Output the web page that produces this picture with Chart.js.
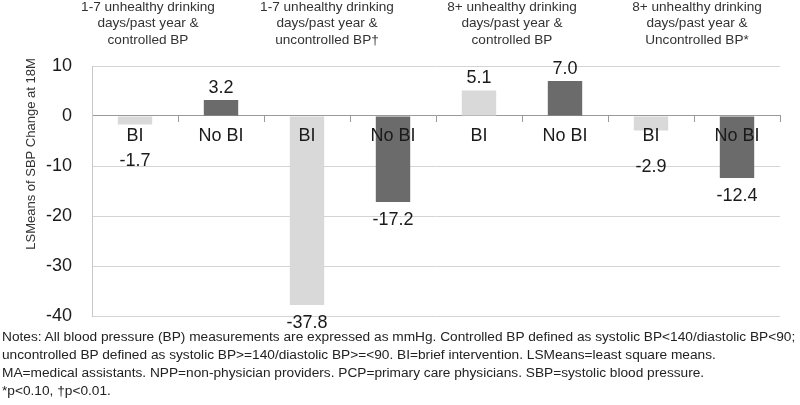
<!DOCTYPE html>
<html>
<head>
<meta charset="utf-8">
<script src="https://cdn.jsdelivr.net/npm/chart.js@4.4.1/dist/chart.umd.min.js"></script>
<style>
  html, body { margin: 0; padding: 0; background: #fff; }
  #wrap { position: relative; width: 800px; height: 405px; overflow: hidden; }
  #notes {
    position: absolute; left: 2px; top: 328px; width: 840px;
    font-family: "Liberation Sans", Arial, sans-serif;
    font-size: 13.7px; line-height: 18px; color: #222; white-space: nowrap;
  }
</style>
</head>
<body>
<div id="wrap">
  <canvas id="chart" width="800" height="405"></canvas>
  <div id="notes">
    Notes: All blood pressure (BP) measurements are expressed as mmHg. Controlled BP defined as systolic BP&lt;140/diastolic BP&lt;90;<br>
    uncontrolled BP defined as systolic BP&gt;=140/diastolic BP&gt;=&lt;90. BI=brief intervention. LSMeans=least square means.<br>
    MA=medical assistants. NPP=non-physician providers. PCP=primary care physicians. SBP=systolic blood pressure.<br>
    *p&lt;0.10, †p&lt;0.01.
  </div>
</div>
<script>
// ----- data -----
const barLabels = ['BI', 'No BI', 'BI', 'No BI', 'BI', 'No BI', 'BI', 'No BI'];
const sbpChange = [-1.7, 3.2, -37.8, -17.2, 5.1, 7.0, -2.9, -12.4];
const groupTitles = [
    ['1-7 unhealthy drinking', 'days/past year &', 'controlled BP'],
    ['1-7 unhealthy drinking', 'days/past year &', 'uncontrolled BP\u2020'],
    ['8+ unhealthy drinking', 'days/past year &', 'controlled BP'],
    ['8+ unhealthy drinking', 'days/past year &', 'Uncontrolled BP*']
];
const yTicks = [10, 0, -10, -20, -30, -40];
const yTitle = 'LSMeans of SBP Change at 18M';

// ----- layout / style -----
const FONT = '"Liberation Sans", Arial, sans-serif';
const titleCenters = [148, 327, 512, 697];
const colBI = '#d9d9d9';
const colNoBI = '#6b6b6b';

// category + value labels, group headers and the y axis title
const annotations = {
    id: 'annotations',
    afterDraw(chart) {
        const ctx = chart.ctx;
        const xs = chart.scales.x;
        const zeroY = chart.scales.y.getPixelForValue(0);
        const meta = chart.getDatasetMeta(0);
        ctx.save();
        ctx.fillStyle = '#1a1a1a';
        ctx.font = '18px ' + FONT;
        ctx.textAlign = 'center';
        ctx.textBaseline = 'middle';

        // BI / No BI sit just under the zero line, on top of the bars
        barLabels.forEach((l, i) => {
            ctx.fillText(l, xs.getPixelForValue(i), zeroY + 20);
        });

        meta.data.forEach((bar, i) => {
            const v = sbpChange[i];
            let y;
            if (v >= 0) y = bar.y - 12;
            else y = bar.y + (Math.abs(v) < 5 ? 37 : 18);  // small bars: push below the category label
            ctx.fillText(v.toFixed(1), bar.x, y);
        });

        // group headers
        ctx.fillStyle = '#333';
        ctx.font = '13.6px ' + FONT;
        groupTitles.forEach((lines, g) => {
            lines.forEach((line, j) => {
                ctx.fillText(line, titleCenters[g], 7 + j * 16.5);
            });
        });

        // y axis title
        ctx.translate(31, 154);
        ctx.rotate(-Math.PI / 2);
        ctx.font = '13px ' + FONT;
        ctx.fillText(yTitle, 0, 0);
        ctx.restore();
    }
};

new Chart(document.getElementById('chart').getContext('2d'), {
    type: 'bar',
    data: {
        labels: barLabels,
        datasets: [{
            data: sbpChange,
            backgroundColor: barLabels.map(l => l === 'BI' ? colBI : colNoBI),
            categoryPercentage: 1.0,
            barPercentage: 0.4
        }]
    },
    options: {
        responsive: false,
        animation: false,
        layout: { padding: { left: 0, right: 20, top: 66, bottom: 89 } },
        plugins: { legend: { display: false }, tooltip: { enabled: false } },
        scales: {
            x: {
                position: { y: 0 },
                grid: { offset: true, drawOnChartArea: false, tickLength: 6, color: '#9a9a9a' },
                border: { color: '#9a9a9a', width: 1 },
                ticks: { display: false }
            },
            y: {
                min: -40, max: 10,
                afterFit(scale) { scale.width = 92; },
                afterBuildTicks(scale) { scale.ticks = yTicks.map(v => ({ value: v })); },
                grid: { color: '#d4d4d4', drawTicks: false },
                border: { color: '#c8c8c8' },
                ticks: { color: '#1a1a1a', font: { family: FONT, size: 18 }, padding: 20 }
            }
        }
    },
    plugins: [annotations]
});
</script>
</body>
</html>
